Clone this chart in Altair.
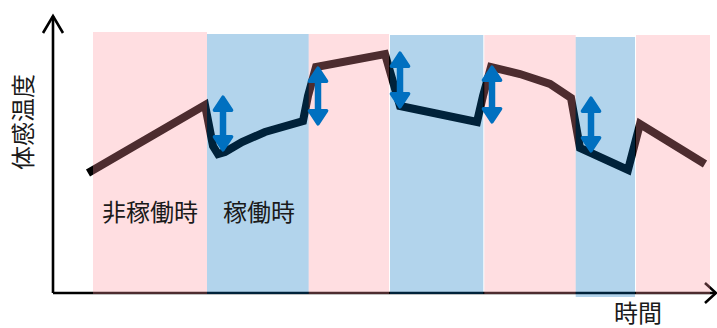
import altair as alt
import pandas as pd

# --- Data (time in arbitrary hours, felt temperature in arbitrary units) ---
time = [3.5, 15.2, 16.0, 16.5, 17.2, 18.9, 21.2, 25.0, 25.5, 26.3, 33.2, 34.7,
        42.4, 43.0, 43.8, 46.7, 49.7, 51.8, 52.7, 57.5, 58.7, 65.2]
temp = [12.0, 18.8, 14.7, 13.9, 14.1, 15.1, 16.1, 17.2, 19.7, 22.6, 23.9, 18.7,
        17.1, 19.7, 22.6, 21.9, 20.9, 19.5, 14.5, 12.3, 16.9, 12.9]

period_state = ["非稼働時", "稼働時", "非稼働時", "稼働時", "非稼働時", "稼働時", "非稼働時"]
period_start = [4.0, 15.4, 25.57, 33.7, 43.13, 52.27, 58.3]
period_end = [15.4, 25.57, 33.6, 43.03, 52.27, 58.2, 65.7]
period_top = [26.1, 25.9, 25.9, 25.8, 25.8, 25.6, 25.8]
period_bottom = [-0.1, -0.1, -0.1, -0.1, -0.1, -0.4, -0.1]

arrow_time = [17.0, 26.5, 34.7, 43.9, 53.8]
arrow_top = [19.7, 22.6, 24.1, 22.7, 19.6]
arrow_bottom = [14.2, 16.8, 18.5, 17.0, 14.1]

label_text = ["非稼働時", "稼働時"]
label_time = [9.7, 20.6]
label_temp = [7.9, 7.9]

FONT = "Noto Sans CJK JP"
PINK = "#FF929A"
BLUE = "#0070C0"

xs = alt.Scale(domain=[-5.3, 66.4], nice=False, zero=False)
ys = alt.Scale(domain=[-3.5, 29.3], nice=False, zero=False)

line_df = pd.DataFrame({"time": time, "temp": temp, "i": list(range(len(time)))})
band_df = pd.DataFrame({"state": period_state, "start": period_start, "end": period_end,
                        "top": period_top, "bottom": period_bottom})
arrow_df = pd.DataFrame({"time": arrow_time, "top": arrow_top, "bottom": arrow_bottom})
arrow_df["shaft_top"] = arrow_df["top"] - 1.0
arrow_df["shaft_bottom"] = arrow_df["bottom"] + 1.0
label_df = pd.DataFrame({"text": label_text, "time": label_time, "temp": label_temp})

axes_df = pd.DataFrame({"x": [0.0, 0.0], "y": [0.0, 0.0], "x2": [0.0, 66.3], "y2": [27.7, 0.0]})
chev_df = pd.DataFrame({
    "x": [-1.0, 0.0, 1.0, 65.2, 66.3, 65.2],
    "y": [26.0, 27.7, 26.0, 1.0, 0.0, -1.0],
    "g": ["y", "y", "y", "x", "x", "x"],
    "o": [0, 1, 2, 0, 1, 2],
})

axes = alt.Chart(axes_df).mark_rule(color="black", strokeWidth=2.6).encode(
    x=alt.X("x:Q", scale=xs, axis=None), y=alt.Y("y:Q", scale=ys, axis=None),
    x2="x2:Q", y2="y2:Q")

chev = alt.Chart(chev_df).mark_line(color="black", strokeWidth=2.6).encode(
    x=alt.X("x:Q", scale=xs, axis=None), y=alt.Y("y:Q", scale=ys, axis=None),
    detail="g:N", order="o:Q")

line = alt.Chart(line_df).mark_line(color="black", strokeWidth=8, strokeCap="butt",
                                    strokeJoin="miter").encode(
    x=alt.X("time:Q", scale=xs, axis=None), y=alt.Y("temp:Q", scale=ys, axis=None),
    order="i:Q")

bands = alt.Chart(band_df).mark_rect(opacity=0.3).encode(
    x=alt.X("start:Q", scale=xs, axis=None), x2="end:Q",
    y=alt.Y("bottom:Q", scale=ys, axis=None), y2="top:Q",
    color=alt.Color("state:N", scale=alt.Scale(domain=["非稼働時", "稼働時"], range=[PINK, BLUE]),
                    legend=None))

shaft = alt.Chart(arrow_df).mark_rule(color=BLUE, strokeWidth=6.5).encode(
    x=alt.X("time:Q", scale=xs, axis=None), y=alt.Y("shaft_top:Q", scale=ys, axis=None),
    y2="shaft_bottom:Q")

head_up = alt.Chart(arrow_df).mark_point(
    shape="M0,0.1L0.78,1.3L-0.78,1.3Z", size=484, filled=True, color=BLUE, opacity=1,
    stroke=BLUE, strokeWidth=3.5, strokeJoin="round").encode(
    x=alt.X("time:Q", scale=xs, axis=None), y=alt.Y("top:Q", scale=ys, axis=None))

head_down = alt.Chart(arrow_df).mark_point(
    shape="M0,-0.1L0.78,-1.3L-0.78,-1.3Z", size=484, filled=True, color=BLUE, opacity=1,
    stroke=BLUE, strokeWidth=3.5, strokeJoin="round").encode(
    x=alt.X("time:Q", scale=xs, axis=None), y=alt.Y("bottom:Q", scale=ys, axis=None))

labels = alt.Chart(label_df).mark_text(font=FONT, fontSize=24, color="#1a1a1a").encode(
    x=alt.X("time:Q", scale=xs, axis=None), y=alt.Y("temp:Q", scale=ys, axis=None),
    text="text:N")

ytitle = alt.Chart(pd.DataFrame({"t": ["体感温度"]})).mark_text(
    font=FONT, fontSize=24, color="#1a1a1a", angle=270).encode(
    x=alt.value(25), y=alt.value(122), text="t:N")

xtitle = alt.Chart(pd.DataFrame({"t": ["時間"]})).mark_text(
    font=FONT, fontSize=24, color="#1a1a1a", baseline="bottom").encode(
    x=alt.value(638), y=alt.value(327), text="t:N")

chart = alt.layer(axes, chev, line, bands, shaft, head_up, head_down, labels, ytitle, xtitle).properties(
    width=717, height=328, padding=0, autosize=alt.AutoSizeParams(type="none")
).configure_view(stroke=None)

chart.save("out.html", embed_options={"renderer": "svg", "actions": False})
